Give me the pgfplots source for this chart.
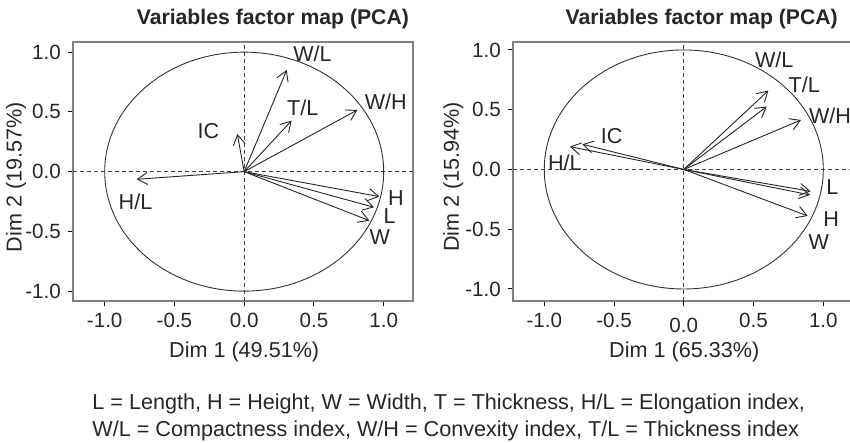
\documentclass[border=0pt]{standalone}
\usepackage{fontspec}
\setmainfont{Liberation Sans}
\usepackage{pgfplots}
\pgfplotsset{compat=1.18}
\usetikzlibrary{arrows.meta}

% arrows from the origin, x y = start, u v = loading
\pgfplotstableread{
x y u v
0 0 0.305 0.851
0 0 0.340 0.427
0 0 0.811 0.516
0 0 -0.049 0.315
0 0 -0.771 -0.064
0 0 0.969 -0.209
0 0 0.930 -0.298
0 0 0.897 -0.410
}\pcaleft
\pgfplotstableread{
x y lab
0.490 0.990 W/L
0.420 0.537 T/L
1.015 0.586 W/H
-0.257 0.342 IC
-0.779 -0.255 H/L
1.087 -0.223 H
1.042 -0.369 L
0.973 -0.551 W
}\lableft

\pgfplotstableread{
x y u v
0 0 0.606 0.660
0 0 0.594 0.526
0 0 0.840 0.414
0 0 -0.727 0.211
0 0 -0.816 0.191
0 0 0.909 -0.183
0 0 0.905 -0.213
0 0 0.888 -0.389
}\pcaright
\pgfplotstableread{
x y lab
0.648 0.916 W/L
0.863 0.707 T/L
1.048 0.449 W/H
-0.517 0.282 IC
-0.852 0.059 H/L
1.065 -0.151 L
1.056 -0.416 H
0.968 -0.611 W
}\labright

\pgfplotsset{
  every axis title shift=0pt,
  pcamap/.style={
    scale only axis,
    anchor=south west,
    clip=false,
    axis line style={draw=gray, line width=0.9pt},
    tick align=outside,
    xtick pos=bottom, ytick pos=left,
    major tick length=2.7pt,
    tick style={black, line width=0.5pt},
    ytick={-1,-0.5,0,0.5,1},
    /pgf/number format/.cd, fixed, fixed zerofill, precision=1, assume math mode=true,
    /pgfplots/.cd,
    ticklabel style={font=\fontsize{10.3}{12}\selectfont, text=black!85},
    label style={font=\fontsize{10.8}{13}\selectfont, text=black!85},
    title style={font=\fontsize{10.6}{13}\selectfont\bfseries, text=black!85, anchor=base},
  },
  arrowplot/.style={quiver={u=\thisrow{u},v=\thisrow{v}},
    -{Straight Barb[length=5pt,width=6pt]}, black!85, line width=0.45pt},
  labplot/.style={only marks, mark=none, nodes near coords, point meta=explicit symbolic,
    nodes near coords style={anchor=center, inner sep=0pt, text=black!85,
      font=\fontsize{10.8}{13}\selectfont}},
}

\begin{document}
\begin{tikzpicture}
\path[use as bounding box] (0,0) rectangle (425pt,221.5pt);

\begin{axis}[pcamap,
  at={(36.65pt,71.15pt)}, width=169.7pt, height=129.35pt,
  xmin=-1.225, xmax=1.208, ymin=-1.08, ymax=1.085,
  xtick={-1,-0.5,0,0.5,1},
  title={Variables factor map (PCA)},
  title style={at={(axis description cs:0.588,1.066)}},
  xlabel={Dim 1 (49.51\%)},
  xlabel style={at={(axis description cs:0.5035,-0.199)}, anchor=center},
  ylabel={Dim 2 (19.57\%)},
  ylabel style={at={(axis description cs:-0.169,0.478)}, anchor=center},
]
\draw[black!80, line width=0.45pt] (axis cs:0,0) ellipse [x radius=1, y radius=1];
\draw[black!75, line width=0.45pt, dash pattern=on 2pt off 1.5pt]
  ({axis cs:0,0}|-{rel axis cs:0,0}) -- ({axis cs:0,0}|-{rel axis cs:0,1});
\draw[black!75, line width=0.45pt, dash pattern=on 2pt off 1.5pt]
  ({rel axis cs:0,0}|-{axis cs:0,0}) -- ({rel axis cs:1,0}|-{axis cs:0,0});
\addplot[arrowplot] table {\pcaleft};
\addplot[labplot] table[meta=lab] {\lableft};
\end{axis}

\begin{axis}[pcamap,
  at={(256.65pt,71.15pt)}, width=170.35pt, height=129.5pt,
  xmin=-1.222, xmax=1.22, ymin=-1.098, ymax=1.069,
  xtick={-1,-0.5,0.5,1},
  extra x ticks={0},
  extra x tick style={xticklabel style={yshift=-2.5pt}},
  title={Variables factor map (PCA)},
  title style={at={(axis description cs:0.553,1.066)}},
  xlabel={Dim 1 (65.33\%)},
  xlabel style={at={(axis description cs:0.5016,-0.199)}, anchor=center},
  ylabel={Dim 2 (15.94\%)},
  ylabel style={at={(axis description cs:-0.176,0.478)}, anchor=center},
]
\draw[black!80, line width=0.45pt] (axis cs:0,0) ellipse [x radius=1, y radius=1];
\draw[black!75, line width=0.45pt, dash pattern=on 2pt off 1.5pt]
  ({axis cs:0,0}|-{rel axis cs:0,0}) -- ({axis cs:0,0}|-{rel axis cs:0,1});
\draw[black!75, line width=0.45pt, dash pattern=on 2pt off 1.5pt]
  ({rel axis cs:0,0}|-{axis cs:0,0}) -- ({rel axis cs:1,0}|-{axis cs:0,0});
\addplot[arrowplot] table {\pcaright};
\addplot[labplot] table[meta=lab] {\labright};
\end{axis}

\node[anchor=base west, inner sep=0pt, text=black!85, font=\fontsize{10.8}{13}\selectfont]
  at (46pt,16.85pt) {L = Length, H = Height, W = Width, T = Thickness, H/L = Elongation index,};
\node[anchor=base west, inner sep=0pt, text=black!85, font=\fontsize{10.8}{13}\selectfont]
  at (46pt,3.15pt) {W/L = Compactness index, W/H = Convexity index, T/L = Thickness index};
\end{tikzpicture}
\end{document}
